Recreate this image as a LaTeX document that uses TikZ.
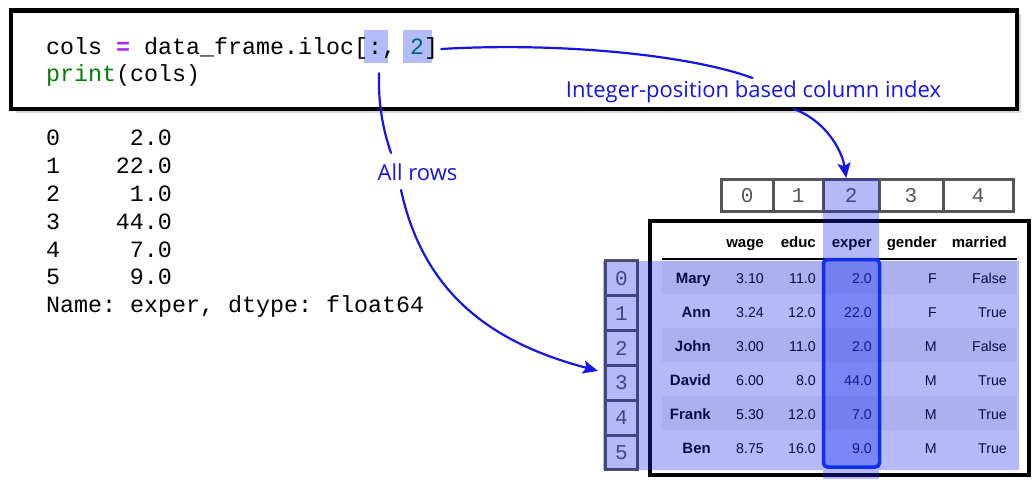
\documentclass[tikz,border=0pt]{standalone}
\usepackage{fontspec}
\setmainfont{Liberation Sans}
\newfontfamily\codefont{Liberation Mono}
\newfontfamily\handfont{Open Sans}
\usetikzlibrary{calc,arrows.meta}
\frenchspacing
\definecolor{hl}{RGB}{179,188,246}
\definecolor{kwpurple}{RGB}{170,34,255}
\definecolor{kwgreen}{RGB}{0,128,0}
\definecolor{numteal}{RGB}{0,102,102}
\definecolor{annblue}{RGB}{20,20,235}
\definecolor{boxgray}{RGB}{85,85,85}
\definecolor{ovl}{rgb}{0.1,0.15,0.9}
\definecolor{selfill}{rgb}{0.1,0.2,0.95}
\definecolor{selborder}{RGB}{16,48,240}
\definecolor{stripe}{RGB}{242,242,242}
\definecolor{shadowgray}{RGB}{215,215,215}
\tikzset{
  codetext/.style={font=\codefont\fontsize{23.33}{28}\selectfont, inner sep=0pt, anchor=base west},
  outval/.style={font=\codefont\fontsize{23.33}{28}\selectfont, inner sep=0pt, anchor=base east},
  hlbox/.style={fill=hl, inner sep=0pt},
  hdr/.style={font=\bfseries\fontsize{15}{18}\selectfont, inner sep=0pt, anchor=base east},
  namecell/.style={font=\bfseries\fontsize{15}{18}\selectfont, inner sep=0pt, anchor=base east},
  valcell/.style={font=\fontsize{14.2}{17}\selectfont, inner sep=0pt, anchor=base east},
  idxbox/.style={draw=boxgray, line width=3pt, fill=white, inner sep=0pt,
    font=\codefont\fontsize{21}{24}\selectfont, text=boxgray},
  ann/.style={text=annblue, font=\handfont\fontsize{22}{26}\selectfont, inner sep=0pt, anchor=base},
  conn/.style={draw=annblue, line width=2.2pt, line cap=round},
  tip/.style={-{Stealth[length=15pt,width=13pt,inset=3pt]}}
}
\begin{document}
\begin{tikzpicture}[x=1pt,y=-1pt]
\useasboundingbox (0,0) rectangle (1035,484);
% ---------- code box ----------
\draw[shadowgray, line width=2pt] (16,112.5) -- (1020,112.5) -- (1020,14);
\node[draw, line width=4.5pt, minimum width=1006, minimum height=98.5, inner sep=0pt, fill=white] (codebox) at (514,59.75) {};
\node[hlbox, minimum width=24, minimum height=33] (hlcolon) at (376,46.5) {};
\node[hlbox, minimum width=29, minimum height=33] (hltwo) at (417.5,46.5) {};
\node[codetext] (code1) at (46,55) {cols {\bfseries\color{kwpurple}=} data\_frame.iloc[:, {\color{numteal}2}]};
\node[codetext] (code2) at (46,82) {{\color{kwgreen}print}(cols)};
% ---------- printed output ----------
\foreach \i/\v/\y in {0/2.0/145, 1/22.0/173, 2/1.0/201, 3/44.0/229, 4/7.0/257, 5/9.0/284}{
  \node[codetext] (oi\i) at (46,\y) {\i};
  \node[outval] (ov\i) at (172,\y) {\v};
}
\node[codetext] (oname) at (46,312) {Name: exper, dtype: float64};
% ---------- table ----------
\node[draw, line width=4pt, minimum width=378.5, minimum height=254, inner sep=0pt] (tbl) at (839.25,348) {};
\foreach \k in {0,2,4}{
  \fill[stripe] (662,260+34*\k) rectangle (1017,294+34*\k);
}
\draw[line width=1.5pt] (662,259) -- (1017,259);
\node[hdr] (hwage) at (764,247) {wage};
\node[hdr] (heduc) at (816,247) {educ};
\node[hdr] (hexper) at (872,247) {exper};
\node[hdr] (hgender) at (937,247) {gender};
\node[hdr] (hmarried) at (1007,247) {married};
\foreach \n/\a/\b/\c/\d/\e [count=\r from 0] in {Mary/3.10/11.0/2.0/F/False, Ann/3.24/12.0/22.0/F/True, John/3.00/11.0/2.0/M/False, David/6.00/8.0/44.0/M/True, Frank/5.30/12.0/7.0/M/True, Ben/8.75/16.0/9.0/M/True}{
  \node[namecell] (rn\r) at (711,283+34*\r) {\n};
  \node[valcell] (ra\r) at (764,283+34*\r) {\a};
  \node[valcell] (rb\r) at (816,283+34*\r) {\b};
  \node[valcell] (rc\r) at (872,283+34*\r) {\c};
  \node[valcell] (rd\r) at (937,283+34*\r) {\d};
  \node[valcell] (re\r) at (1007,283+34*\r) {\e};
}
% column position boxes
\node[idxbox, minimum width=51.5, minimum height=32] (cb0) at (747.25,195.5) {0};
\node[idxbox, minimum width=50.5, minimum height=32] (cb1) at (798.25,195.5) {1};
\node[idxbox, minimum width=55.5, minimum height=32] (cb2) at (851.25,195.5) {2};
\node[idxbox, minimum width=64, minimum height=32] (cb3) at (911,195.5) {3};
\node[idxbox, minimum width=70.5, minimum height=32] (cb4) at (978.25,195.5) {4};
% row position boxes
\foreach \i in {0,...,5}{
  \node[idxbox, minimum width=32, minimum height=34.83] (ib\i) at (621.5,278.4+34.83*\i) {\i};
}
% selection overlays
\fill[ovl, fill opacity=0.32] (603,261) rectangle (1019,470) (823,178) rectangle (879,479);
\draw[selborder, line width=3.5pt, rounded corners=4pt, fill=selfill, fill opacity=0.38] (823.5,259.5) rectangle (879.5,467);
% ---------- annotations ----------
\node[ann] (lblcol) at (753.5,98) {Integer-position based column index};
\node[ann] (lblrows) at (417.5,180) {All rows};
\coordinate (c1s) at ($(hltwo.east)+(9,2.5)$);
\draw[conn] (c1s) .. controls (560,42) and (690,55) .. ($(lblcol.base)+(-1,-20)$);
\draw[conn, tip] ($(lblcol.base)+(40,11)$) .. controls (825,120) and (842,150) .. ($(cb2.north)+(-5,0)$);
\draw[conn] ($(hlcolon.south)+(3,10)$) .. controls (378,110) and (385,135) .. ($(lblrows.base)+(-26.5,-27)$);
\draw[conn, tip] ($(lblrows.base)+(-16.5,10)$) .. controls (425,300) and (500,345) .. ($(ib3.west)+(-6,-12)$);
\end{tikzpicture}
\end{document}
